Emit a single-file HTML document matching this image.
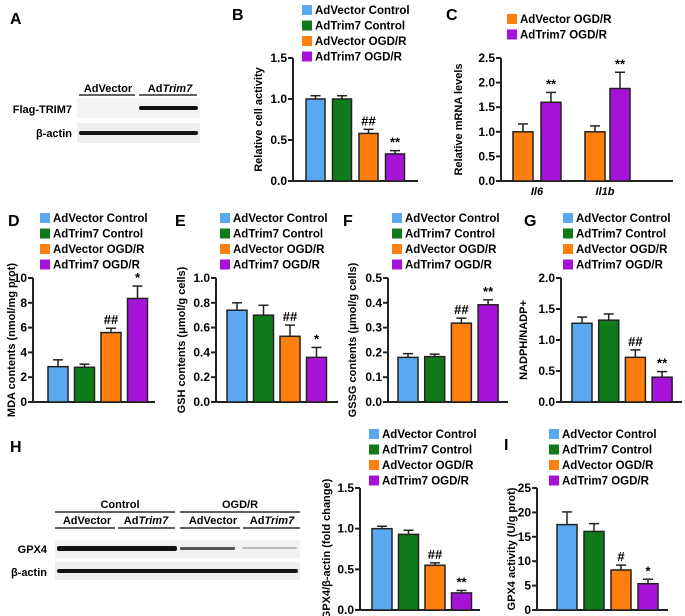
<!DOCTYPE html>
<html><head><meta charset="utf-8"><style>
body{margin:0;background:#fff;}
svg{display:block;font-family:"Liberation Sans",Arial,sans-serif;font-weight:bold;}
</style></head><body>
<svg id="fig" width="685" height="616" viewBox="0 0 685 616" xmlns="http://www.w3.org/2000/svg">
<g>
<text x="10" y="24" font-size="16">A</text>
<text x="108" y="92" font-size="11" text-anchor="middle">AdVector</text>
<text x="170" y="92" font-size="11" text-anchor="middle">Ad<tspan font-style="italic">Trim7</tspan></text>
<line x1="79" y1="95" x2="135" y2="95" stroke="#000" stroke-width="1.2"/>
<line x1="139" y1="95" x2="197" y2="95" stroke="#000" stroke-width="1.2"/>
<text x="72" y="113" font-size="11" text-anchor="end">Flag-TRIM7</text>
<text x="72" y="137" font-size="11" text-anchor="end">β-actin</text>
<rect x="77" y="98" width="123" height="20" fill="#f4f4f4"/>
<rect x="77" y="123" width="123" height="20" fill="#eeeeee"/>
<rect x="139" y="106" width="59" height="4" fill="#111" rx="2"/>
<rect x="79" y="131" width="119" height="4" fill="#111" rx="2"/>
<text x="10" y="452" font-size="16">H</text>
<text x="120" y="508" font-size="11" text-anchor="middle">Control</text>
<text x="240" y="508" font-size="11" text-anchor="middle">OGD/R</text>
<line x1="55" y1="512" x2="175" y2="512" stroke="#000" stroke-width="1.2"/>
<line x1="180" y1="512" x2="300" y2="512" stroke="#000" stroke-width="1.2"/>
<text x="87" y="524" font-size="11" text-anchor="middle">AdVector</text>
<text x="146" y="524" font-size="11" text-anchor="middle">Ad<tspan font-style="italic">Trim7</tspan></text>
<text x="213" y="524" font-size="11" text-anchor="middle">AdVector</text>
<text x="272" y="524" font-size="11" text-anchor="middle">Ad<tspan font-style="italic">Trim7</tspan></text>
<line x1="55" y1="528" x2="115" y2="528" stroke="#000" stroke-width="1.2"/>
<line x1="118" y1="528" x2="175" y2="528" stroke="#000" stroke-width="1.2"/>
<line x1="180" y1="528" x2="240" y2="528" stroke="#000" stroke-width="1.2"/>
<line x1="243" y1="528" x2="300" y2="528" stroke="#000" stroke-width="1.2"/>
<text x="47" y="553" font-size="11" text-anchor="end">GPX4</text>
<text x="47" y="576" font-size="11" text-anchor="end">β-actin</text>
<rect x="55" y="540" width="245" height="18" fill="#f2f2f2"/>
<rect x="55" y="562" width="245" height="18" fill="#eeeeee"/>
<rect x="57" y="546" width="120" height="5" fill="#111" rx="2"/>
<rect x="180" y="547" width="55" height="3" fill="#555" rx="1"/>
<rect x="242" y="547" width="55" height="2" fill="#bbb" rx="1"/>
<rect x="57" y="569" width="241" height="4" fill="#111" rx="2"/>
</g>
</svg>
<script>
const colors=["#5aa9f0","#0f7a1a","#ff7f0e","#a612d8"];
const groups=["AdVector Control","AdTrim7 Control","AdVector OGD/R","AdTrim7 OGD/R"];
const bVals=[1.0,1.0,0.58,0.33], bErr=[0.04,0.04,0.05,0.04], bSig=["","","##","**"];
const cCats=["Il6","Il1b"], cOrange=[1.0,1.0], cPurple=[1.6,1.88], cOrangeErr=[0.16,0.12], cPurpleErr=[0.2,0.33];
const dVals=[2.85,2.8,5.6,8.35], dErr=[0.55,0.25,0.35,1.0], dSig=["","","##","*"];
const eVals=[0.74,0.70,0.53,0.36], eErr=[0.06,0.08,0.09,0.08], eSig=["","","##","*"];
const fVals=[0.18,0.183,0.318,0.392], fErr=[0.015,0.01,0.02,0.02], fSig=["","","##","**"];
const gVals=[1.27,1.32,0.72,0.40], gErr=[0.1,0.1,0.12,0.09], gSig=["","","##","**"];
const hVals=[1.0,0.93,0.55,0.21], hErr=[0.03,0.05,0.03,0.03], hSig=["","","##","**"];
const iVals=[17.5,16.1,8.2,5.4], iErr=[2.6,1.6,1.0,0.9], iSig=["","","#","*"];
const bTicks=["0.0","0.5","1.0","1.5"], cTicks=["0.0","0.5","1.0","1.5","2.0","2.5"];
const dTicks=["0","2","4","6","8","10"], eTicks=["0.0","0.2","0.4","0.6","0.8","1.0"];
const fTicks=["0.0","0.1","0.2","0.3","0.4","0.5"], gTicks=["0.0","0.5","1.0","1.5","2.0"];
const hTicks=["0.0","0.5","1.0","1.5"], iTicks=["0","5","10","15","20","25"];

const NS="http://www.w3.org/2000/svg", svg=document.getElementById("fig");
function mk(tag,attrs,parent,txt){const e=document.createElementNS(NS,tag);for(const k in attrs)e.setAttribute(k,attrs[k]);if(txt!==undefined)e.textContent=txt;parent.appendChild(e);return e;}

function panel(p){
  const g=mk("g",{},svg);
  
  
  const lab=mk("text",{x:p.lx,y:p.ly,"font-size":16},g,p.id.toUpperCase());
  
  
  const ticks=p.ticks, max=parseFloat(ticks[ticks.length-1]);
  const y=v=>p.y0-(v/max)*(p.y0-p.yTop);
  p.legend.forEach((name,i)=>{
    const r=mk("rect",{x:p.legX,y:p.legY+i*15.5-9,width:10,height:10,fill:p.legColors[i]},g);
    
    
    const t=mk("text",{x:p.legX+13,y:p.legY+i*15.5,"font-size":11.5},g,name);
    
    
  });
  const ax=mk("path",{d:`M${p.ax} ${y(max)} V${p.y0} H${p.axEnd}`,stroke:"#222","stroke-width":2,fill:"none"},g);
  
  
  ticks.forEach(tk=>{
    const v=parseFloat(tk);
    mk("line",{x1:p.ax-5,x2:p.ax,y1:y(v),y2:y(v),stroke:"#222","stroke-width":2},g);
    const t=mk("text",{x:p.ax-6,y:y(v)+4,"font-size":12,"text-anchor":"end"},g,tk);
    
    
  });
  const tt=mk("text",{x:p.tx,y:(p.y0+y(max))/2,"font-size":11,"text-anchor":"middle",transform:`rotate(-90 ${p.tx} ${(p.y0+y(max))/2})`},g,p.title);
  
  
  p.vals.forEach((v,i)=>{
    const x=p.bx[i], w=p.bw;
    const top=y(v), et=y(v+p.err[i]);
    mk("line",{x1:x+w/2,x2:x+w/2,y1:top,y2:et,stroke:"#222","stroke-width":1.5},g);
    mk("line",{x1:x+w/2-5,x2:x+w/2+5,y1:et,y2:et,stroke:"#222","stroke-width":1.5},g);
    const b=mk("rect",{x:x,y:top,width:w,height:p.y0-top,fill:p.barColors[i],stroke:"#222","stroke-width":1.5},g);
    
    
    if(p.sig[i]){const s=mk("text",{x:x+w/2,y:et-4,"font-size":13,"text-anchor":"middle"},g,p.sig[i]);
      
      }
  });
  (p.cats||[]).forEach((c,i)=>{
    const t=mk("text",{x:p.catX[i],y:p.y0+14,"font-size":11,"font-style":"italic","text-anchor":"middle"},g,c);
    
    
  });
}
const four=(x0,st)=>[x0,x0+st,x0+2*st,x0+3*st];
panel({id:"b",lx:232,ly:20,ticks:bTicks,y0:181,yTop:58,ax:293,axEnd:418,tx:262,title:"Relative cell activity",
  legend:groups,legColors:colors,legX:302,legY:14,vals:bVals,err:bErr,sig:bSig,bx:four(306,26.5),bw:19,barColors:colors});
panel({id:"c",lx:446,ly:20,ticks:cTicks,y0:181,yTop:58,ax:501,axEnd:673,tx:462,title:"Relative mRNA levels",
  legend:["AdVector OGD/R","AdTrim7 OGD/R"],legColors:[colors[2],colors[3]],legX:507,legY:23,
  vals:[cOrange[0],cPurple[0],cOrange[1],cPurple[1]],err:[cOrangeErr[0],cPurpleErr[0],cOrangeErr[1],cPurpleErr[1]],sig:["","**","","**"],
  bx:[513,541,585,610],bw:20,barColors:[colors[2],colors[3],colors[2],colors[3]],cats:cCats,catX:[537,605]});
panel({id:"d",lx:8,ly:226,ticks:dTicks,y0:402,yTop:278,ax:33,axEnd:155,tx:15,title:"MDA contents (nmol/mg prot)",
  legend:groups,legColors:colors,legX:40,legY:222,vals:dVals,err:dErr,sig:dSig,bx:four(48,26.5),bw:20,barColors:colors});
panel({id:"e",lx:175,ly:226,ticks:eTicks,y0:402,yTop:278,ax:216,axEnd:338,tx:185,title:"GSH contents (μmol/g cells)",
  legend:groups,legColors:colors,legX:220,legY:222,vals:eVals,err:eErr,sig:eSig,bx:four(227,26.5),bw:20,barColors:colors});
panel({id:"f",lx:343,ly:226,ticks:fTicks,y0:402,yTop:278,ax:388,axEnd:508,tx:356,title:"GSSG contents (μmol/g cells)",
  legend:groups,legColors:colors,legX:392,legY:222,vals:fVals,err:fErr,sig:fSig,bx:four(398,26.7),bw:20,barColors:colors});
panel({id:"g",lx:524,ly:226,ticks:gTicks,y0:402,yTop:278,ax:561,axEnd:682,tx:527,title:"NADPH/NADP+",
  legend:groups,legColors:colors,legX:563,legY:222,vals:gVals,err:gErr,sig:gSig,bx:four(572,26.7),bw:20,barColors:colors});
panel({id:"h2",lx:-50,ly:-50,ticks:hTicks,y0:610,yTop:488,ax:360,axEnd:480,tx:330,title:"GPX4/β-actin (fold change)",
  legend:groups,legColors:colors,legX:369,legY:438,vals:hVals,err:hErr,sig:hSig,bx:four(372,26.5),bw:20,barColors:colors});
panel({id:"i",lx:504,ly:450,ticks:iTicks,y0:610,yTop:488,ax:537,axEnd:668,tx:515,title:"GPX4 activity (U/g prot)",
  legend:groups,legColors:colors,legX:549,legY:438,vals:iVals,err:iErr,sig:iSig,bx:four(557,27),bw:20,barColors:colors});
</script>
</body></html>
